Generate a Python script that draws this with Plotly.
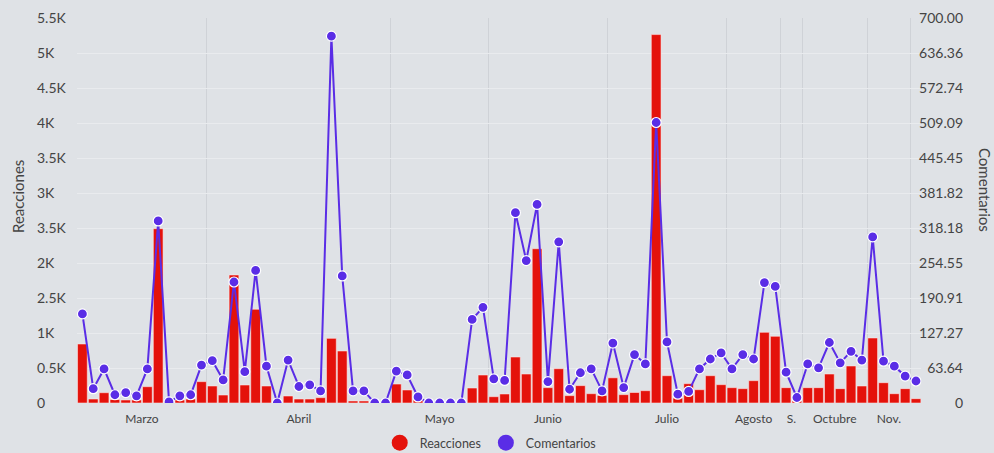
import plotly.graph_objects as go
from itertools import accumulate

# Daily totals of reactions (bars, left axis) and comments (line, right axis)
reacciones = [
    843, 57, 147, 50, 43, 43, 233, 2490, 0, 43, 57, 305,
    243, 114, 1829, 257, 1339, 243, 0, 100, 57, 57, 76, 924, 743, 29, 29, 0, 0,
    271, 186, 43, 0, 0, 0, 0, 214, 400,
    90, 129, 657, 414, 2204, 219, 490, 105, 248, 133, 108,
    360, 119, 150, 176, 5263, 390, 71, 276, 190, 390, 262,
    219, 205, 319, 1010, 953,
    219, 30,
    219, 219, 414, 205, 529, 243,
    929, 290, 133, 205,
    62,
]
comentarios = [
    162, 26, 62, 15, 19, 13, 62, 331, 2, 13, 15, 69,
    77, 42, 220, 57, 241, 67, 0, 78, 30, 33, 22, 667, 231, 22, 22, 0, 0,
    58, 51, 11, 0, 0, 0, 0, 152, 174,
    44, 41, 346, 259, 361, 39, 293, 25, 55, 62, 22,
    109, 28, 88, 71, 510, 111, 16, 21, 62, 80, 91,
    62, 88, 80, 219, 212,
    56, 10,
    71, 64, 110, 73, 94, 78,
    302, 76, 67, 49,
    40,
]

# Month groups along the x axis (number of days shown per month)
month_names = ["Marzo", "Abril", "Mayo", "Junio", "Julio", "Agosto", "S.", "Octubre", "Nov.", ""]
month_counts = [12, 17, 9, 11, 11, 5, 2, 6, 4, 1]

# Axis tick labels
left_tick_values = [0, 500, 1000, 1500, 2000, 2500, 3000, 3500, 4000, 4500, 5000, 5500]
left_tick_text = ["0", "0.5K", "1K", "2.5K", "2K", "3.5K", "3K", "3.5K", "4K", "4.5K", "5K", "5.5K"]
right_max = 700
right_tick_text = ["0", "63.64", "127.27", "190.91", "254.55", "318.18", "381.82",
                   "445.45", "509.09", "572.74", "636.36", "700.00"]

RED = "#e4120b"
PURPLE = "#5a2de6"
BG = "#dfe2e6"
TEXT = "#444444"
FONT = "Lato"

x = list(range(len(reacciones)))
ends = list(accumulate(month_counts))
starts = [e - c for e, c in zip(ends, month_counts)]
month_centers = [(s + e - 1) / 2 for s, e in zip(starts, ends)]
month_bounds = [e - 0.5 for e in ends[:-1]]
right_tick_values = [right_max * k / (len(right_tick_text) - 1) for k in range(len(right_tick_text))]

W, H = 994, 453
ML, MR, MT, MB = 36, 31, 18, 50
PW = W - ML - MR
PH = H - MT - MB
x_domain = [(77 - ML) / PW, (921.4 - ML) / PW]

fig = go.Figure()
fig.add_trace(go.Bar(
    x=x, y=reacciones, name="Reacciones", yaxis="y",
    marker=dict(color=RED, line=dict(color="rgba(255,235,235,0.55)", width=1)),
    showlegend=False,
))
fig.add_trace(go.Scatter(
    x=x, y=comentarios, name="Comentarios", yaxis="y2", mode="lines+markers",
    line=dict(color=PURPLE, width=2),
    marker=dict(color=PURPLE, size=10, line=dict(color="white", width=1.2)),
    showlegend=False,
))
# Legend entries drawn as round swatches
for name, color in [("Reacciones", RED), ("Comentarios", PURPLE)]:
    fig.add_trace(go.Scatter(
        x=[None], y=[None], name=name, mode="markers",
        marker=dict(color=color, size=16, symbol="circle"),
    ))

fig.update_layout(
    width=W, height=H,
    margin=dict(l=ML, r=MR, t=MT, b=MB, autoexpand=False),
    paper_bgcolor=BG, plot_bgcolor=BG,
    font=dict(family=FONT, color=TEXT, size=13),
    bargap=0.1,
    showlegend=True,
    legend=dict(orientation="h", x=0.49, xanchor="center",
                yref="container", y=(H - 443) / H, yanchor="middle",
                font=dict(size=12.5, color=TEXT), bgcolor="rgba(0,0,0,0)"),
    xaxis=dict(
        domain=x_domain, range=[-0.5, len(x) - 0.5], anchor="y",
        tickmode="array", tickvals=month_centers, ticktext=month_names,
        showgrid=False, zeroline=False, showline=False, ticks="",
        ticklabelstandoff=7,
        tickfont=dict(size=12, color=TEXT),
        minor=dict(tickmode="array", tickvals=month_bounds, showgrid=True,
                   gridcolor="#cfd2d7", gridwidth=1, ticks=""),
    ),
    yaxis=dict(
        range=[0, left_tick_values[-1]], side="right", anchor="free", position=0,
        tickmode="array", tickvals=left_tick_values, ticktext=left_tick_text,
        showgrid=True, gridcolor="#e9ebee", gridwidth=1, zeroline=False,
        showline=False, ticks="", tickfont=dict(size=14, color=TEXT),
    ),
    yaxis2=dict(
        range=[0, right_max], overlaying="y", side="left", anchor="free", position=1,
        tickmode="array", tickvals=right_tick_values, ticktext=right_tick_text,
        showgrid=False, zeroline=False, showline=False, ticks="",
        tickfont=dict(size=14, color=TEXT),
    ),
    annotations=[
        dict(text="Reacciones", textangle=-90, xref="paper", yref="paper",
             x=(18 - ML) / PW, y=(H - MB - 197) / PH, xanchor="center", yanchor="middle",
             showarrow=False, font=dict(size=15, color=TEXT)),
        dict(text="Comentarios", textangle=90, xref="paper", yref="paper",
             x=(985 - ML) / PW, y=(H - MB - 190) / PH, xanchor="center", yanchor="middle",
             showarrow=False, font=dict(size=15, color=TEXT)),
    ],
)

fig.write_html("out.html")
